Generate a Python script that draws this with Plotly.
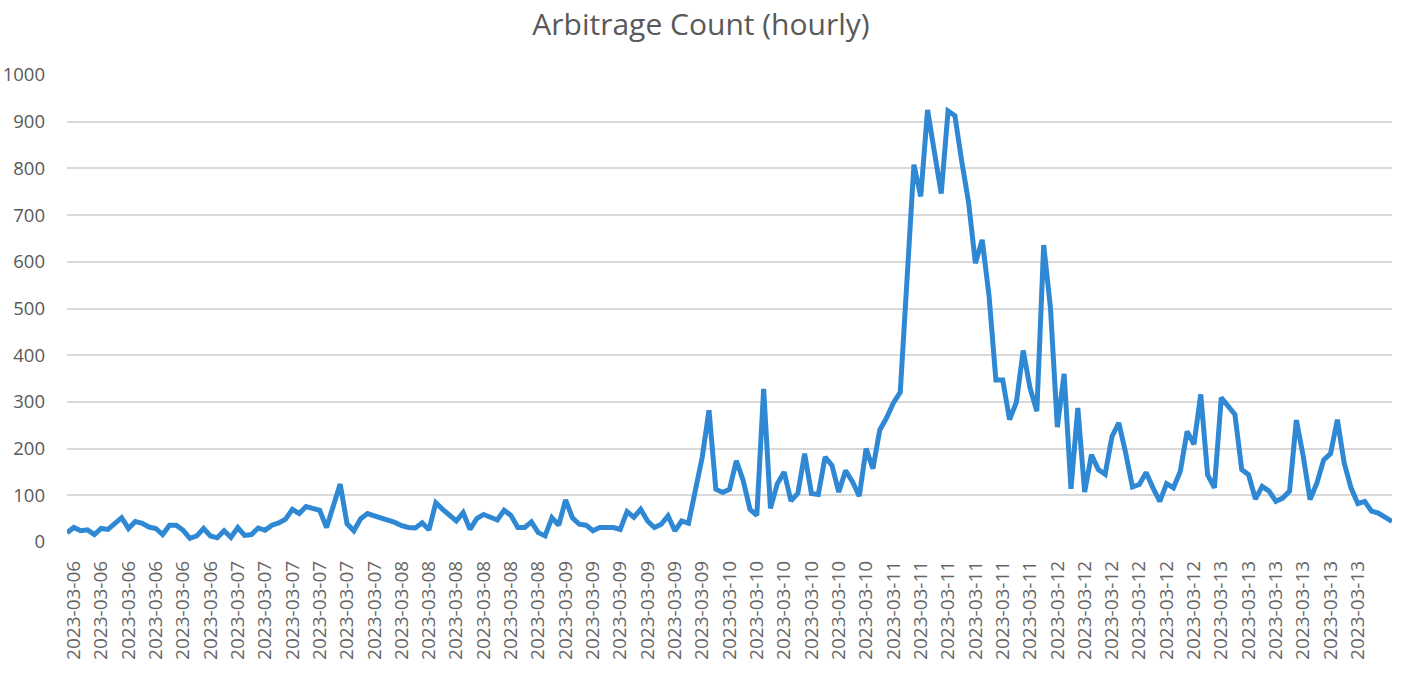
import plotly.graph_objects as go

# Hourly arbitrage counts
counts = [
    20, 31, 24, 26, 16, 29, 27, 40, 52, 29, 44, 40, 32, 29, 16, 36, 36, 25, 8, 13,
    29, 13, 9, 24, 10, 31, 14, 16, 30, 25, 36, 41, 49, 70, 61, 76, 73, 68, 31, 78,
    124, 39, 24, 50, 61, 56, 52, 47, 42, 35, 31, 30, 41, 26, 84, 70, 57, 45, 63, 27,
    50, 59, 53, 47, 68, 57, 31, 31, 43, 20, 13, 52, 36, 90, 52, 38, 36, 24, 31, 31,
    31, 27, 65, 53, 70, 45, 31, 38, 56, 24, 45, 40, 105, 181, 282, 113, 106, 113, 174, 132,
    70, 57, 328, 72, 125, 150, 88, 104, 189, 104, 102, 182, 164, 107, 153, 129, 98, 200, 157, 240,
    266, 298, 321, 560, 808, 740, 925, 835, 746, 923, 913, 815, 728, 597, 647, 527, 347, 347, 262, 299,
    410, 330, 280, 636, 500, 246, 360, 114, 287, 107, 187, 155, 145, 226, 255, 191, 118, 123, 149, 116,
    87, 125, 116, 151, 237, 209, 316, 144, 116, 309, 291, 273, 155, 144, 92, 119, 109, 87, 94, 109,
    261, 184, 91, 126, 176, 189, 262, 169, 116, 82, 87, 66, 62, 53, 44,
]
hours = list(range(len(counts)))

# Category tick labels (one every 4 hours)
tick_positions = list(range(1, 190, 4))
tick_labels = (["2023-03-06"] * 6 + ["2023-03-07"] * 6 + ["2023-03-08"] * 6 +
               ["2023-03-09"] * 6 + ["2023-03-10"] * 6 + ["2023-03-11"] * 6 +
               ["2023-03-12"] * 6 + ["2023-03-13"] * 6)

y_ticks = list(range(0, 1001, 100))

fig = go.Figure()
fig.add_trace(go.Scatter(
    x=hours, y=counts, mode="lines",
    line=dict(color="#2f88d4", width=5),
    showlegend=False, hoverinfo="y",
))

fig.update_layout(
    width=1402, height=689,
    margin=dict(l=67, r=10, t=75, b=147),
    paper_bgcolor="white", plot_bgcolor="white",
    font=dict(family="Open Sans", color="#595959"),
    title=dict(text="Arbitrage Count (hourly)", x=0.5, xanchor="center",
               y=0.965, yanchor="middle", font=dict(size=30, color="#595959")),
)
fig.update_xaxes(
    range=[0, 194], tickmode="array", tickvals=tick_positions, ticktext=tick_labels,
    tickangle=-90, showgrid=False, zeroline=False, showline=False, automargin=False,
    tickfont=dict(size=19, color="#666666"), ticks="", ticklabelstandoff=14,
)
fig.update_yaxes(
    range=[0, 1000], tickmode="array", tickvals=y_ticks,
    showgrid=True, gridcolor="#d9d9d9", gridwidth=1.5, zeroline=False, showline=False,
    automargin=False,
    tickfont=dict(size=18.5, color="#595959"), ticks="", ticklabelstandoff=21,
)

fig.write_html("out.html", config={"displayModeBar": False},
               post_script="document.body.style.margin='0';")
